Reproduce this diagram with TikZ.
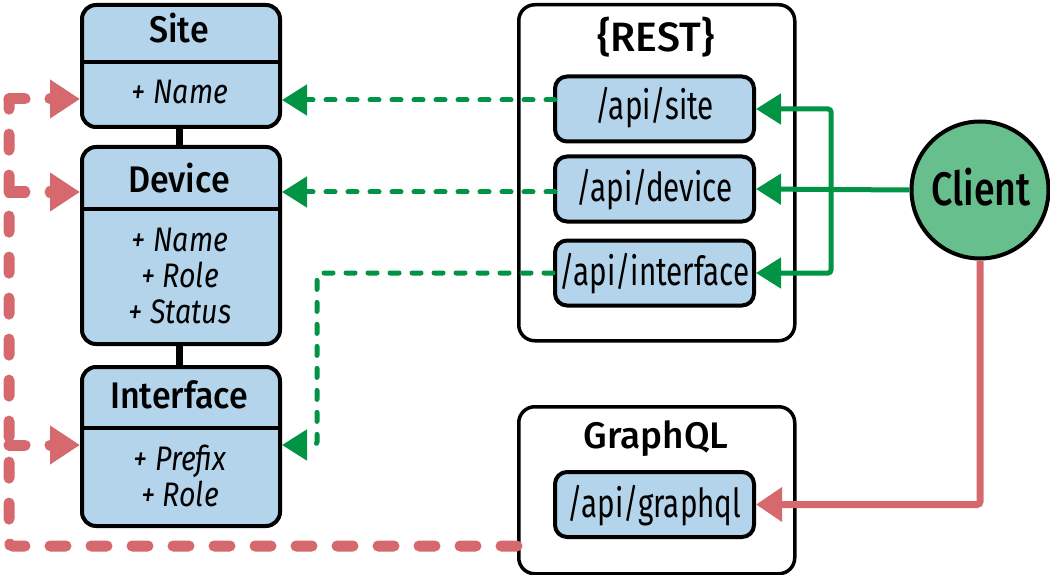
\documentclass[tikz,border=0pt]{standalone}
\usepackage{fontspec}
\setmainfont{Fira Sans}
\newfontfamily\titlefont{Fira Sans Medium}
\newfontfamily\umlfont{Fira Sans Medium}[FakeStretch=0.92]
\newfontfamily\clientfont{Fira Sans Medium}[FakeStretch=0.8]
\newfontfamily\apifont{Fira Sans}[FakeStretch=0.74]
\newfontfamily\attrfont{Fira Sans}[FakeStretch=0.84]
\usetikzlibrary{arrows.meta,calc}
\definecolor{boxblue}{RGB}{179,212,234}
\definecolor{arrgreen}{RGB}{0,148,68}
\definecolor{clientgreen}{RGB}{102,191,140}
\definecolor{arrred}{RGB}{214,105,110}
\tikzset{
  umlbox/.style={draw=black,line width=4pt,fill=boxblue,rounded corners=14pt,inner sep=0pt,anchor=north west},
  apibox/.style={draw=black,line width=4pt,fill=boxblue,rounded corners=12pt,inner sep=0pt,minimum width=199pt,minimum height=65pt},
  apitext/.style={font=\apifont\fontsize{40}{44}\selectfont,inner sep=0pt,anchor=base},
  groupbox/.style={draw=black,line width=3.5pt,fill=white,rounded corners=16pt,inner sep=0pt,anchor=north west},
  titletext/.style={font=\titlefont\fontsize{37}{40}\selectfont,inner sep=0pt,anchor=base},
  umltitle/.style={font=\umlfont\fontsize{37}{40}\selectfont,inner sep=0pt,anchor=base},
  attrtext/.style={font=\attrfont\itshape\fontsize{34}{36}\selectfont,inner sep=0pt,align=center,anchor=base},
  divider/.style={line width=4pt},
  linkline/.style={line width=7pt},
  greensolid/.style={arrgreen,line width=5pt,rounded corners=3pt,-{Triangle[length=25pt,width=30pt]}},
  greendash/.style={arrgreen,line width=5pt,dash pattern=on 9pt off 13pt,line cap=round,-{Triangle[length=25pt,width=30pt]}},
  redsolid/.style={arrred,line width=7pt,rounded corners=3pt,-{Triangle[length=26pt,width=33pt]}},
  reddash/.style={arrred,line width=11pt,dash pattern=on 16pt off 25pt,line cap=round,rounded corners=4pt},
  redtip/.style={-{Triangle[length=30pt,width=37pt]}}
}
\begin{document}
\begin{tikzpicture}[x=1pt,y=-1pt]
\useasboundingbox (0,0) rectangle (1050,575);
% group boxes
\node[groupbox,minimum width=276pt,minimum height=336pt] (rest) at (517,3) {};
\node[groupbox,minimum width=276pt,minimum height=167pt] (gqlgroup) at (517,405) {};
\node[titletext,font=\titlefont\fontsize{41}{44}\selectfont] (resttitle) at (656,52) {\{REST\}};
\node[titletext] (gqltitle) at (656,448) {GraphQL};
% api boxes
\node[apibox] (apisite) at (654.5,109) {};
\node[apibox] (apidevice) at (654.5,189) {};
\node[apibox] (apiiface) at (654.5,273) {};
\node[apibox] (apigql) at (654.5,504.5) {};
\node[apitext] (apisitet) at (654.5,120) {/api/site};
\node[apitext] (apidevicet) at (654.5,201) {/api/device};
\node[apitext] (apiifacet) at (654.5,285) {/api/interface};
\node[apitext] (apigqlt) at (654.5,517) {/api/graphql};
% client
\node[circle,draw=black,line width=4pt,fill=clientgreen,minimum size=137pt,inner sep=0pt] (client) at (980,190) {};
\node[font=\clientfont\fontsize{47}{50}\selectfont,inner sep=0pt,anchor=base] (clientt) at (981,205) {Client};
% links between UML boxes
\draw[linkline] (179,125) -- (179,146);
\draw[linkline] (179,342) -- (179,365);
% UML boxes
\node[umlbox,minimum width=198pt,minimum height=122pt] (site) at (80,3) {};
\node[umlbox,minimum width=198pt,minimum height=197pt] (device) at (80,145) {};
\node[umlbox,minimum width=198pt,minimum height=159pt] (iface) at (80,365) {};
\draw[divider] (site.west |- 0,62) -- (site.east |- 0,62);
\draw[divider] (device.west |- 0,209) -- (device.east |- 0,209);
\draw[divider] (iface.west |- 0,428) -- (iface.east |- 0,428);
\node[umltitle] (sitetitle) at (179,43) {Site};
\node[attrtext] (siteattr) at (180,104) {+ Name};
\node[attrtext] (devattr) at (180,323) {+ Name\\+ Role\\+ Status};
\node[umltitle] (devtitle) at (179,193) {Device};
\node[umltitle] (iftitle) at (179,408) {Interface};
\node[attrtext] (ifattr) at (180,506) {+ Prefix\\+ Role};
% green solid connectors
\coordinate (gj) at (831,189);
\draw[greensolid] (client.west) -- (apidevice.east);
\draw[greensolid] (gj) |- (apisite.east);
\draw[greensolid] (gj) |- (apiiface.east);
% green dashed connectors
\coordinate (gs) at (555,100);
\coordinate (gd) at (555,192);
\coordinate (gi) at (317,445);
\draw[greendash] (gs) -- (site.east |- gs);
\draw[greendash] (gd) -- (device.east |- gd);
\draw[greendash,rounded corners=3pt] (apiiface.west) -| (gi) -- (iface.east |- gi);
% red solid connector
\draw[redsolid] (client.south) |- (apigql.east);
% red dashed connectors
\coordinate (rb) at (9,546);
\coordinate (rt) at (9,99);
\coordinate (rd) at (9,192);
\coordinate (ri) at (9,445);
\draw[reddash] (gqlgroup.west |- rb) -- (rb) -- (rt);
\draw[reddash,redtip] (rt) -- (site.west |- rt);
\draw[reddash,redtip] (rd) -- (device.west |- rd);
\draw[reddash,redtip] (ri) -- (iface.west |- ri);
\end{tikzpicture}
\end{document}
